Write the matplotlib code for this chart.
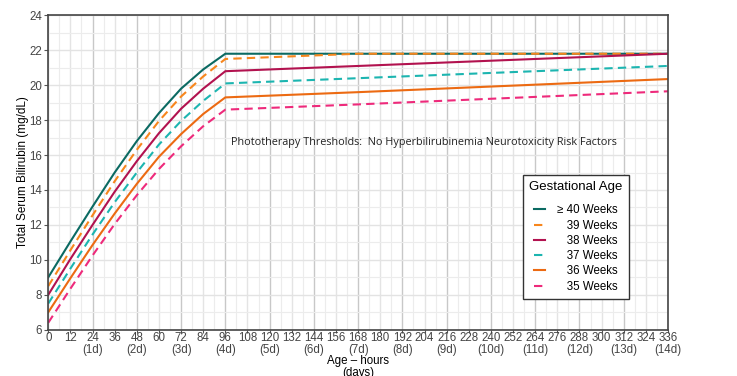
import matplotlib.pyplot as plt
from matplotlib.ticker import MultipleLocator

# Phototherapy thresholds (mg/dL)
hours = [0, 12, 24, 36, 48, 60, 72, 84, 96, 168, 336]
ge40 = [9.0, 11.05, 13.05, 15.0, 16.8, 18.4, 19.8, 20.9, 21.8, 21.8, 21.8]
ge39 = [8.5, 10.55, 12.55, 14.5, 16.3, 17.95, 19.35, 20.5, 21.5, 21.8, 21.8]
ge38 = [8.0, 10.05, 12.0, 13.9, 15.65, 17.25, 18.65, 19.8, 20.8, 21.1, 21.8]
ge37 = [7.5, 9.5, 11.45, 13.3, 15.0, 16.6, 17.95, 19.1, 20.1, 20.4, 21.1]
ge36 = [7.0, 8.95, 10.85, 12.65, 14.35, 15.9, 17.2, 18.35, 19.3, 19.6, 20.35]
ge35 = [6.4, 8.35, 10.25, 12.05, 13.7, 15.2, 16.5, 17.65, 18.6, 18.9, 19.65]

series = [
    ("\u2265 40 Weeks", ge40, "#0b6a62", "-"),
    ("   39 Weeks", ge39, "#f7861c", "--"),
    ("   38 Weeks", ge38, "#b2124f", "-"),
    ("   37 Weeks", ge37, "#1cb5b0", "--"),
    ("   36 Weeks", ge36, "#ec6a12", "-"),
    ("   35 Weeks", ge35, "#ee2a7b", "--"),
]

plt.rcParams['font.family'] = ['Liberation Sans', 'DejaVu Sans']

fig = plt.figure(figsize=(7.37, 3.76), dpi=100)
ax = fig.add_axes([0.0655, 0.1231, 0.9064 - 0.0655, 0.9593 - 0.1231])

for label, vals, color, ls in series:
    if ls == "--":
        ax.plot(hours, vals, color=color, linewidth=1.5, linestyle=ls,
                dashes=(4, 2.5), label=label)
    else:
        ax.plot(hours, vals, color=color, linewidth=1.5, linestyle=ls, label=label)

ax.set_xlim(0, 336)
ax.set_ylim(6, 24)

# x ticks: hours with days under every 24h
xt = list(range(0, 337, 12))
xl = []
for h in xt:
    if h > 0 and h % 24 == 0:
        xl.append(f"{h}\n({h // 24}d)")
    else:
        xl.append(f"{h}\n")
ax.set_xticks(xt)
ax.set_xticklabels(xl, fontsize=8.3, color="#444444", linespacing=1.0)
ax.set_yticks(range(6, 25, 2))
ax.tick_params(axis='y', labelsize=8.3, labelcolor="#444444",
               length=3, width=0.8, color="#555555", pad=1.5)
ax.tick_params(axis='x', length=2, width=0.8, color="#555555", pad=0)

# grid
ax.xaxis.set_minor_locator(MultipleLocator(6))
ax.yaxis.set_minor_locator(MultipleLocator(1))
ax.tick_params(which='minor', length=0)
for h in xt:
    c = "#c8c8c8" if h % 24 == 0 else "#e4e4e4"
    ax.axvline(h, color=c, linewidth=1.0, zorder=0)
ax.grid(True, which='minor', color="#ececec", linewidth=0.8, zorder=0)
ax.grid(True, which='major', axis='y', color="#e3e3e3", linewidth=1.0, zorder=0)
ax.set_axisbelow(True)

for s in ax.spines.values():
    s.set_color("#444444")
    s.set_linewidth(1.2)

ax.set_xlabel("Age \u2013 hours\n(days)", fontsize=8.3, labelpad=-1, linespacing=0.95)
ax.set_ylabel("Total Serum Bilirubin (mg/dL)", fontsize=8.5, labelpad=0)

ax.text(99, 16.7, "Phototherapy Thresholds:  No Hyperbilirubinemia Neurotoxicity Risk Factors",
        fontsize=7.8, family=['Open Sans', 'DejaVu Sans'], ha='left', va='center',
        color="#222222")

leg = ax.legend(title="Gestational Age", loc='upper left',
                bbox_to_anchor=(0.7656, 0.492), borderaxespad=0,
                fontsize=8.3, title_fontsize=9.5, handlelength=1.0,
                handletextpad=1.0, labelspacing=0.28, fancybox=False,
                framealpha=1, edgecolor="#333333", borderpad=0.55)
leg.get_frame().set_linewidth(1.0)
leg._legend_box.sep = 8

fig.savefig("out.png", dpi=100)
